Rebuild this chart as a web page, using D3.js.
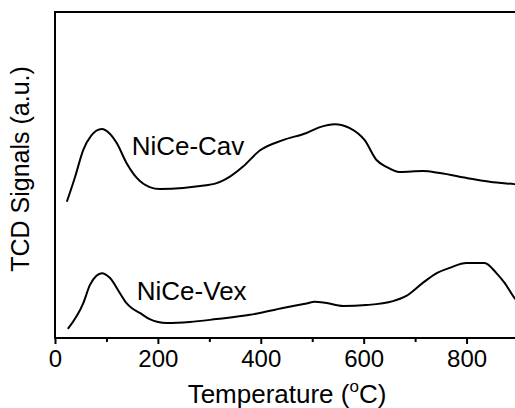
<!DOCTYPE html>
<html><head><meta charset="utf-8">
<script src="https://cdn.jsdelivr.net/npm/d3@7"></script>
<style>body{margin:0;background:#fff}svg{display:block}text{font-family:Arial,"Liberation Sans",sans-serif;fill:#000}</style>
</head><body><svg id="c" width="515" height="408"></svg>
<script>
const cavT = [23,39,55,70,91,105,120,139,159,184,204,249,282,314,330,340,365,398,443,489,515,544,573,602,625,644,670,715,748,800,845,893,900];
const cavV = [41.8,49.4,57.7,62.0,64.1,62.9,59.8,53.7,49.1,46.3,45.7,46.0,46.6,47.5,48.6,49.5,52.5,57.5,60.7,62.9,64.7,65.6,64.4,60.7,54.6,52.5,50.9,51.2,50.6,49.1,47.9,47.2,47.1];
const vexT = [25,55,68,80,91,107,126,139,149,165,184,217,262,314,379,443,489,505,525,560,605,657,683,715,742,767,800,835,858,874,893,900];
const vexV = [2.8,10.7,16.3,19.0,19.9,18.4,13.8,10.7,9.2,7.7,5.8,4.6,4.9,5.8,7.1,9.2,10.6,11.1,10.8,9.8,10.1,11.3,12.9,16.9,19.9,21.5,23.0,23.0,19.9,16.9,12.3,11.0];
const seriesNames = ["NiCe-Cav","NiCe-Vex"];
const labelT = [149,159];
const labelV = [56.1,11.7];
const xTicks = [0,200,400,600,800];
const xMinor = [100,300,500,700];

const svg = d3.select("#c");
const L=55, R=518, T=12, B=338;
const x = d3.scaleLinear().domain([0,900]).range([L,R]);
const y = d3.scaleLinear().domain([0,100]).range([B,T]);

const line = d3.line().x(d=>x(d[0])).y(d=>y(d[1])).curve(d3.curveMonotoneX);
[[cavT,cavV],[vexT,vexV]].forEach(([ts,vs])=>{
  svg.append("path").datum(ts.map((t,i)=>[t,vs[i]]))
    .attr("d",line).attr("fill","none").attr("stroke","#000").attr("stroke-width",2);
});

// frame
svg.append("rect").attr("x",L).attr("y",T).attr("width",R-L).attr("height",B-T)
  .attr("fill","none").attr("stroke","#000").attr("stroke-width",2);

// x axis
const ax = d3.axisBottom(x).tickValues(xTicks).tickSize(6).tickPadding(6).tickFormat(d3.format("d"));
const g = svg.append("g").attr("transform",`translate(0,${B})`).call(ax);
g.select(".domain").remove();
g.selectAll(".tick line").attr("stroke","#000").attr("stroke-width",2);
g.selectAll(".tick text").attr("font-size",24).attr("font-family","Arial, 'Liberation Sans', sans-serif").attr("fill","#000").attr("dy","0.71em");
const gm = svg.append("g").attr("transform",`translate(0,${B})`).call(d3.axisBottom(x).tickValues(xMinor).tickSize(4).tickFormat(""));
gm.select(".domain").remove();
gm.selectAll(".tick line").attr("stroke","#000").attr("stroke-width",2);

// series labels
seriesNames.forEach((n,i)=>{
  svg.append("text").attr("x",x(labelT[i])).attr("y",y(labelV[i])).attr("font-size",26).text(n);
});

// x title
const xt = svg.append("text").attr("x",287).attr("y",403).attr("text-anchor","middle").attr("font-size",26);
xt.append("tspan").text("Temperature (");
xt.append("tspan").attr("font-size",17).attr("dy",-11).text("o");
xt.append("tspan").attr("dy",11).text("C)");

// y title
svg.append("text").attr("transform","translate(29,169) rotate(-90)").attr("text-anchor","middle").attr("font-size",25).text("TCD Signals (a.u.)");
</script></body></html>
